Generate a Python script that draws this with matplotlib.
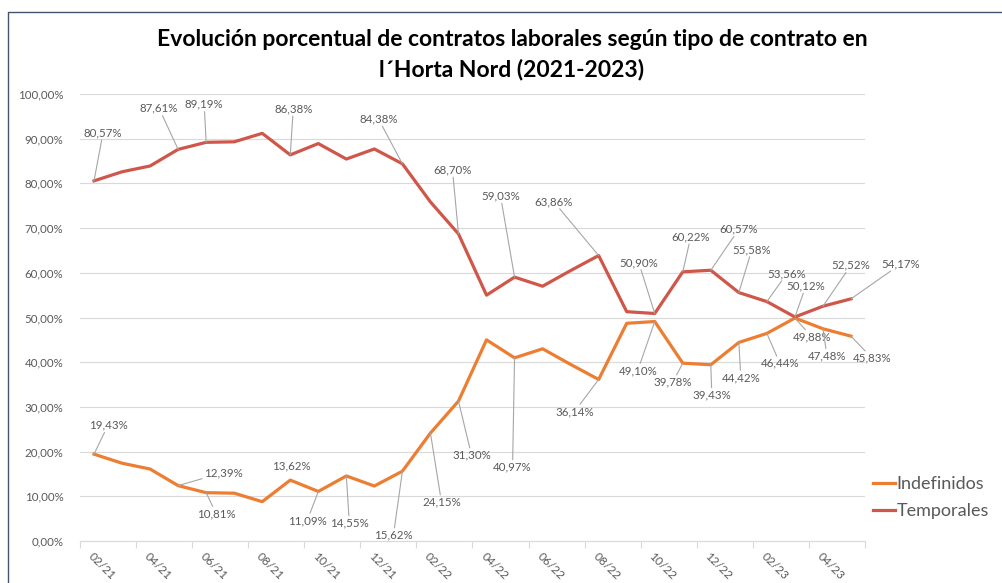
"""
Evolucion porcentual de contratos - l'Horta Nord
"""

import matplotlib.pyplot as plt
from matplotlib.lines import Line2D
from matplotlib.ticker import FuncFormatter, FixedLocator

plt.rcParams['font.family'] = ['Lato', 'DejaVu Sans']

meses = ['02/21', '03/21', '04/21', '05/21', '06/21', '07/21', '08/21', '09/21',
         '10/21', '11/21', '12/21', '01/22', '02/22', '03/22', '04/22', '05/22',
         '06/22', '07/22', '08/22', '09/22', '10/22', '11/22', '12/22', '01/23',
         '02/23', '03/23', '04/23', '05/23']

temporales = [80.57, 82.6, 83.9, 87.61, 89.19, 89.3, 91.2, 86.38, 88.91, 85.45,
              87.7, 84.38, 75.85, 68.70, 55.0, 59.03, 57.0, 60.5, 63.86, 51.3,
              50.90, 60.22, 60.57, 55.58, 53.56, 50.12, 52.52, 54.17]

indefinidos = [19.43, 17.4, 16.1, 12.39, 10.81, 10.7, 8.8, 13.62, 11.09, 14.55,
               12.3, 15.62, 24.15, 31.30, 45.0, 40.97, 43.0, 39.5, 36.14, 48.7,
               49.10, 39.78, 39.43, 44.42, 46.44, 49.88, 47.48, 45.83]

# etiquetas visibles: indice -> desplazamiento en px (dx, dy hacia abajo)
etq_temp = {0: (9, -48), 3: (-19, -41), 4: (-2, -38), 7: (3, -46), 11: (-24, -45),
            13: (-6, -64), 15: (-14, -81), 18: (-45, -54), 20: (-16, -51),
            21: (8, -35), 22: (28, -41), 23: (13, -43), 24: (20, -28),
            25: (11, -31), 26: (28, -41), 27: (50, -35)}
etq_indef = {0: (14, -29), 3: (45, -13), 4: (10, 21), 7: (1, -14), 8: (-11, 29),
             9: (3, 47), 11: (-9, 64), 12: (11, 69), 13: (13, 54), 15: (-2, 109),
             18: (-24, 32), 20: (-17, 49), 21: (-10, 19), 22: (1, 30),
             23: (2, 35), 24: (13, 30), 25: (17, 19), 26: (4, 27), 27: (21, 22)}

c_temp = '#D0564A'
c_indef = '#ED7D31'
gris = '#595959'

fig = plt.figure(figsize=(10.03, 5.83), dpi=100)
ax = fig.add_axes([80/1003, 42/583, 785/1003, 447/583])

x = list(range(len(meses)))
ax.plot(x, [v/100 for v in indefinidos], color=c_indef, lw=2.3, label='Indefinidos',
        solid_joinstyle='round', zorder=3)
ax.plot(x, [v/100 for v in temporales], color=c_temp, lw=2.3, label='Temporales',
        solid_joinstyle='round', zorder=3)


def fmt(v):
    return f'{v:.2f}'.replace('.', ',') + '%'


def etiquetar(serie, etqs):
    for i, (dx, dy) in etqs.items():
        d2 = dx*dx + dy*dy
        ap = None
        if d2 > 16**2:
            ap = dict(arrowstyle='-', color='#A6A6A6', lw=0.8, shrinkA=0, shrinkB=0)
        ax.annotate(fmt(serie[i]), xy=(i, serie[i]/100), xytext=(dx*0.72, -dy*0.72),
                    textcoords='offset points', ha='center', va='center',
                    fontsize=8.3, color=gris, arrowprops=ap,
                    bbox=dict(boxstyle='square,pad=0.15', fc='none', ec='none'),
                    zorder=4)


etiquetar(temporales, etq_temp)
etiquetar(indefinidos, etq_indef)

ax.set_xlim(-0.5, len(meses) - 0.5)
ax.set_ylim(0, 1)
ax.set_yticks([i/10 for i in range(11)])
ax.yaxis.set_major_formatter(FuncFormatter(lambda v, p: f'{v*100:.2f}'.replace('.', ',') + '%'))
ax.tick_params(axis='y', length=0, pad=12, labelsize=8.3, labelcolor=gris)
ax.grid(axis='y', color='#D9D9D9', lw=0.8)
ax.set_axisbelow(True)

ax.xaxis.set_major_locator(FixedLocator(x[::2]))
ax.set_xticklabels(meses[::2])
ax.xaxis.set_minor_locator(FixedLocator([i - 0.5 for i in range(0, len(meses) + 1, 2)]))
ax.tick_params(axis='x', which='major', length=0, pad=7, labelsize=8.6, labelcolor=gris)
ax.tick_params(axis='x', which='minor', length=5, color='#D9D9D9', width=0.8)
for t in ax.get_xticklabels():
    t.set_rotation(-45)
    t.set_ha('left')
    t.set_va('top')
    t.set_rotation_mode('anchor')

for s in ['top', 'right', 'left']:
    ax.spines[s].set_visible(False)
ax.spines['bottom'].set_color('#D9D9D9')
ax.spines['bottom'].set_linewidth(0.8)

leg = fig.legend(loc='upper left', bbox_to_anchor=(857/1003, 1 - 460/583), frameon=False,
                 fontsize=13, handlelength=1.2, handletextpad=0.1, labelspacing=0.6,
                 labelcolor=gris)

fig.text(512/1003, 1 - 40/583,
         'Evolución porcentual de contratos laborales según tipo de contrato en',
         ha='center', va='center', fontsize=16.5, fontweight='bold', color='black')
fig.text(512/1003, 1 - 70/583, 'l´Horta Nord (2021-2023)',
         ha='center', va='center', fontsize=16.5, fontweight='bold', color='black')

# marco del grafico
fig.add_artist(Line2D([8/1003, 8/1003, 1], [0, 1 - 12/583, 1 - 12/583],
                      transform=fig.transFigure, color='#44546A', lw=1))

fig.savefig('out.png', dpi=100)
